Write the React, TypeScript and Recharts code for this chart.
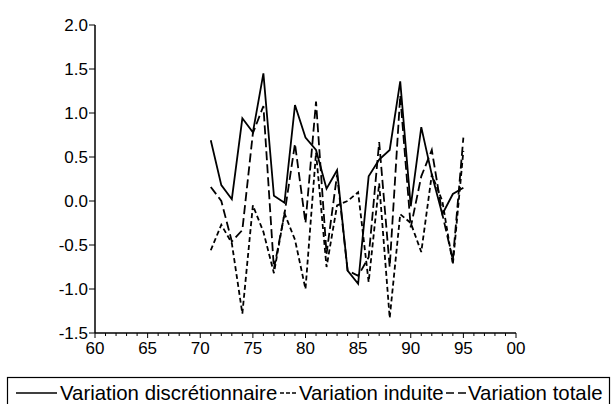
import { LineChart, Line, XAxis, YAxis } from 'recharts'

// années observées (19xx)
const YEARS = [71, 72, 73, 74, 75, 76, 77, 78, 79, 80, 81, 82, 83, 84, 85, 86, 87, 88, 89, 90, 91, 92, 93, 94, 95]

const DISCRETIONNAIRE = [0.69, 0.18, 0.02, 0.94, 0.78, 1.45, 0.06, -0.02, 1.09, 0.72, 0.58, 0.14, 0.35, -0.79, -0.94, 0.28, 0.47, 0.58, 1.36, -0.06, 0.84, 0.3, -0.15, 0.08, 0.15]
const INDUITE = [-0.56, -0.27, -0.48, -1.28, -0.05, -0.35, -0.82, -0.14, -0.44, -1.0, 0.55, -0.75, -0.05, 0.0, 0.1, -0.92, 0.2, -1.33, -0.15, -0.25, -0.58, 0.3, 0.0, -0.72, 0.57]
const TOTALE = [0.16, 0.0, -0.46, -0.33, 0.77, 1.08, -0.77, -0.15, 0.65, -0.25, 1.13, -0.6, 0.3, -0.79, -0.85, -0.64, 0.67, -0.75, 1.2, -0.3, 0.28, 0.58, -0.15, -0.67, 0.72]

const X_LABELS = [60, 65, 70, 75, 80, 85, 90, 95, 100]
const Y_TICKS = [-1.5, -1.0, -0.5, 0.0, 0.5, 1.0, 1.5, 2.0]

const FONT = '"Liberation Sans", Arial, sans-serif'
const DASH_INDUITE = '5 3'
const DASH_TOTALE = '9 4'

const data = YEARS.map((year, i) => ({
    year,
    disc: DISCRETIONNAIRE[i],
    ind: INDUITE[i],
    tot: TOTALE[i],
}))

// une graduation par an, libellé tous les 5 ans
const yearTicks = Array.from({ length: 41 }, (_, i) => 60 + i)

function YearTick({ x, y, payload }: any) {
    const v = payload.value
    const major = X_LABELS.includes(v)
    return (
        <g>
            <line x1={x} x2={x} y1={y} y2={y + (major ? 5 : 3)} stroke="#000" strokeWidth={1} />
            {major && (
                <text x={x} y={y + 21} textAnchor="middle" fontSize={17} fontFamily={FONT} fill="#000">
                    {String(v % 100).padStart(2, '0')}
                </text>
            )}
        </g>
    )
}

function LegendBox() {
    const ty = 400
    const ly = 393
    const fs = 20.4
    return (
        <svg width={613} height={404} style={{ position: 'absolute', left: 0, top: 0, pointerEvents: 'none' }}>
            <rect x={7.5} y={377.5} width={602} height={40} fill="none" stroke="#000" strokeWidth={1.2} />
            <line x1={16} x2={57} y1={ly} y2={ly} stroke="#000" strokeWidth={1.5} />
            <text x={60} y={ty} fontSize={fs} fontFamily={FONT} fill="#000">Variation discrétionnaire</text>
            <line x1={280} x2={297} y1={ly} y2={ly} stroke="#000" strokeWidth={1.5} strokeDasharray="4 2" />
            <text x={299} y={ty} fontSize={fs} fontFamily={FONT} fill="#000">Variation induite</text>
            <line x1={446} x2={466} y1={ly} y2={ly} stroke="#000" strokeWidth={1.5} strokeDasharray="8 4" />
            <text x={468} y={ty} fontSize={fs} fontFamily={FONT} fill="#000">Variation totale</text>
        </svg>
    )
}

export default function App() {
    return (
        <div style={{ position: 'absolute', left: 0, top: 0, width: 613, height: 404, overflow: 'hidden', background: '#fff' }}>
            <LineChart width={613} height={404} data={data} margin={{ top: 25, right: 97, left: 0, bottom: 40 }}>
                <XAxis
                    dataKey="year"
                    type="number"
                    domain={[60, 100]}
                    ticks={yearTicks}
                    interval={0}
                    tickSize={0}
                    tickMargin={0}
                    tickLine={false}
                    height={31}
                    axisLine={{ stroke: '#000', strokeWidth: 1.5 }}
                    tick={<YearTick />}
                />
                <YAxis
                    type="number"
                    domain={[-1.5, 2]}
                    ticks={Y_TICKS}
                    width={95}
                    tickSize={6}
                    tickMargin={1}
                    tickFormatter={(v: number) => v.toFixed(1)}
                    tick={{ fontSize: 17, fontFamily: FONT, fill: '#000' }}
                    tickLine={{ stroke: '#000' }}
                    axisLine={{ stroke: '#000', strokeWidth: 1.5 }}
                />
                <Line type="linear" dataKey="disc" name="Variation discrétionnaire" stroke="#000" strokeWidth={1.8} dot={false} isAnimationActive={false} />
                <Line type="linear" dataKey="ind" name="Variation induite" stroke="#000" strokeWidth={1.8} strokeDasharray={DASH_INDUITE} dot={false} isAnimationActive={false} />
                <Line type="linear" dataKey="tot" name="Variation totale" stroke="#000" strokeWidth={1.8} strokeDasharray={DASH_TOTALE} dot={false} isAnimationActive={false} />
            </LineChart>
            <LegendBox />
        </div>
    )
}
